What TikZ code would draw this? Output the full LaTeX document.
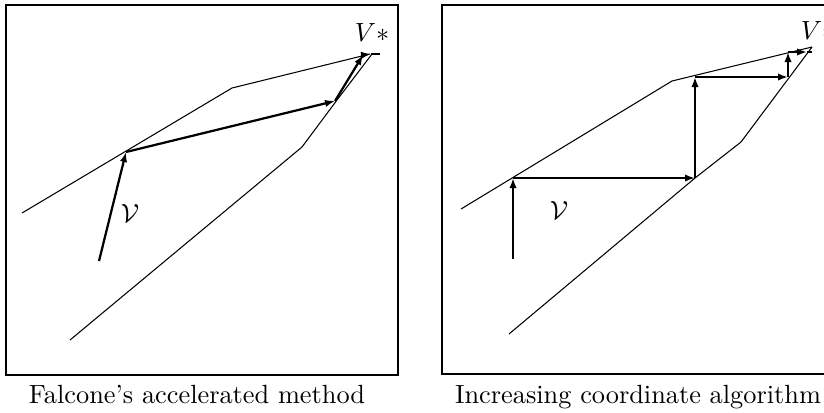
\documentclass[tikz,border=0pt]{standalone}
\usepackage{amsmath,amssymb}
\usetikzlibrary{arrows.meta}

\begin{document}
\begin{tikzpicture}[
  x=0.38pt, y=-0.38pt,
  frame/.style={draw, line width=0.9pt},
  curve/.style={line width=0.4pt},
  arr/.style={-{Latex[length=3.8pt,width=2.8pt]}, line width=0.85pt},
  bar/.style={line width=1pt},
  lbl/.style={inner sep=0pt},
  caption/.style={anchor=base, inner sep=0pt}
]
  \clip (0,0) rectangle (824,412);

  % left panel
  \draw[frame] (6,5) rectangle (398,375);
  \coordinate (uA) at (22,213);
  \coordinate (uB) at (126,152);
  \coordinate (uC) at (232,88);
  \coordinate (uD) at (370,54);
  \coordinate (wA) at (70,340);
  \coordinate (wB) at (302,147);
  \coordinate (wC) at (337,100);
  \coordinate (wD) at (372,54);
  \draw[curve] (uA) -- (uC) -- (uD);
  \draw[curve] (wA) -- (wB) -- (wC) -- (wD);

  \coordinate (f0) at (99,261);
  \coordinate (f1) at (335,101);
  \coordinate (f2) at (363,55);
  \coordinate (f3) at (371,54);
  \coordinate (f4) at (380,54);
  \draw[arr] (f0) -- (uB);
  \draw[arr] (uB) -- (f1);
  \draw[arr] (f1) -- (f2);
  \draw[arr] (f2) -- (f3);
  \draw[bar] (f3) -- (f4);

  \node[lbl] (vl) at (130,213) {$\mathcal{V}$};
  \node[lbl] (sl) at (372,32) {$V*$};
  \node[caption] (capl) at (197,403) {Falcone's accelerated method};

  % right panel
  \draw[frame] (442,5) rectangle (850,374);
  \coordinate (pA) at (461,209);
  \coordinate (pB) at (672,81);
  \coordinate (pC) at (812,47);
  \coordinate (qA) at (509,334);
  \coordinate (qB) at (695,178);
  \coordinate (qC) at (741,142);
  \coordinate (qD) at (812,47);
  \draw[curve] (pA) -- (pB) -- (pC);
  \draw[curve] (qA) -- (qB) -- (qC) -- (qD);

  \coordinate (s0) at (513,259);
  \coordinate (s1) at (513,178);
  \coordinate (s2) at (695,77);
  \coordinate (s3) at (788,77);
  \coordinate (s4) at (788,52);
  \coordinate (s5) at (807,52);
  \coordinate (s6) at (812,52);
  \draw[arr] (s0) -- (s1);
  \draw[arr] (s1) -- (qB);
  \draw[arr] (qB) -- (s2);
  \draw[arr] (s2) -- (s3);
  \draw[arr] (s3) -- (s4);
  \draw[arr] (s4) -- (s5);
  \draw[bar] (s5) -- (s6);

  \node[lbl] (vr) at (559,210) {$\mathcal{V}$};
  \node[lbl] (sr) at (818,31) {$V*$};
  \node[caption] (capr) at (638,403) {Increasing coordinate algorithm};
\end{tikzpicture}
\end{document}
